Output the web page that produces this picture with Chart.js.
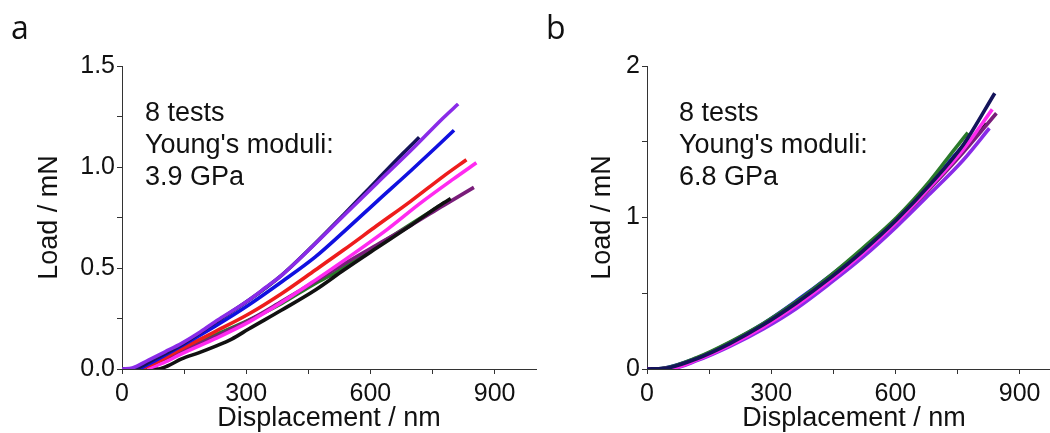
<!DOCTYPE html>
<html>
<head>
<meta charset="utf-8">
<script src="https://cdn.jsdelivr.net/npm/chart.js@4.4.1/dist/chart.umd.min.js"></script>
<style>
  html, body { margin: 0; padding: 0; background: #fff; overflow: hidden; }
  body { width: 1050px; height: 433px; position: relative; font-family: "Liberation Sans", Arial, sans-serif; }
  .panel { position: absolute; top: 0; width: 540px; height: 433px; }
  .letter { position: absolute; font-family: "Open Sans", "DejaVu Sans", sans-serif; font-size: 32px; color: #111; }
  .note { position: absolute; font-size: 27px; line-height: 32px; color: #111; white-space: nowrap; }
</style>
</head>
<body>
<div class="panel" style="left:0"><canvas id="chartA" width="540" height="433"></canvas></div>
<div class="panel" style="left:525px"><canvas id="chartB" width="540" height="433"></canvas></div>
<div class="letter" style="left:11px;top:5px">a</div>
<div class="letter" style="left:546px;top:5px">b</div>
<div class="note" style="left:145px;top:96px">8 tests<br>Young's moduli:<br>3.9 GPa</div>
<div class="note" style="left:679px;top:96px">8 tests<br>Young's moduli:<br>6.8 GPa</div>
<script>
// -----------------------------
// DATA  (displacement nm, load mN)
// -----------------------------
const xTickValues = [0, 150, 300, 450, 600, 750, 900];
const xTickLabels = [0, 300, 600, 900];
const yTickValuesA = [0, 0.25, 0.5, 0.75, 1, 1.25, 1.5];
const yTickLabelsA = [0, 0.5, 1, 1.5];
const yTickValuesB = [0, 0.5, 1, 1.5, 2];
const yTickLabelsB = [0, 1, 2];

// panel a
const aViolet = [[0,0],[25,0.005],[64,0.044],[104,0.085],[144,0.127],[185,0.178],[225,0.234],[266,0.287],[306,0.341],[346,0.402],[386,0.465],[451,0.589],[536,0.76],[616,0.92],[697,1.08],[777,1.245],[812,1.312]];
const aNavy   = [[35,0],[70,0.04],[144,0.12],[225,0.23],[306,0.34],[386,0.465],[451,0.59],[536,0.765],[616,0.935],[680,1.07],[718,1.147]];
const aBlue   = [[40,0],[70,0.03],[144,0.115],[225,0.212],[306,0.317],[386,0.432],[467,0.555],[536,0.68],[616,0.83],[697,0.98],[760,1.1],[802,1.182]];
const aRed    = [[45,0],[80,0.03],[144,0.1],[225,0.185],[306,0.272],[386,0.374],[467,0.49],[536,0.59],[616,0.71],[697,0.83],[777,0.955],[832,1.036]];
const aPink   = [[60,0],[100,0.03],[144,0.075],[225,0.15],[306,0.232],[386,0.33],[467,0.44],[552,0.56],[640,0.69],[720,0.82],[800,0.94],[856,1.021]];
const aGreen  = [[40,0],[80,0.035],[144,0.094],[225,0.168],[306,0.242],[386,0.325],[467,0.424],[510,0.47],[600,0.59],[700,0.72],[780,0.825]];
const aBlack  = [[0,0],[85,0],[110,0.015],[144,0.05],[185,0.08],[225,0.112],[265,0.148],[306,0.198],[386,0.292],[467,0.391],[536,0.49],[616,0.6],[697,0.71],[760,0.8],[794,0.844]];
const aPurple = [[0,0],[40,0.005],[80,0.03],[144,0.085],[225,0.16],[306,0.24],[386,0.335],[431,0.39],[536,0.52],[616,0.615],[697,0.71],[777,0.81],[850,0.899]];

// panel b
const bNavy   = [[0,0],[45,0.005],[120,0.068],[200,0.168],[281,0.292],[361,0.436],[442,0.6],[522,0.78],[603,0.985],[683,1.215],[764,1.48],[840,1.82]];
const bBlue   = [[0,0],[40,0.005],[120,0.072],[200,0.175],[281,0.3],[361,0.45],[442,0.615],[522,0.79],[603,0.99],[683,1.21],[740,1.4],[780,1.52]];
const bGreen  = [[0,0],[40,0.005],[120,0.075],[200,0.178],[281,0.3],[361,0.445],[442,0.615],[522,0.8],[603,1.0],[683,1.24],[740,1.44],[775,1.56]];
const bRed    = [[0,0],[50,0.005],[120,0.07],[200,0.17],[281,0.29],[361,0.43],[442,0.6],[522,0.78],[603,0.985],[650,1.11]];
const bPink   = [[0,0],[60,0.005],[120,0.06],[200,0.158],[281,0.278],[361,0.42],[442,0.585],[522,0.765],[603,0.97],[683,1.2],[764,1.45],[834,1.714]];
const bPurple = [[0,0],[50,0.005],[120,0.065],[200,0.163],[281,0.282],[361,0.424],[442,0.59],[522,0.768],[603,0.97],[683,1.19],[764,1.43],[844,1.688]];
const bViolet = [[0,0],[60,0.003],[120,0.055],[200,0.15],[281,0.265],[361,0.4],[442,0.565],[522,0.74],[603,0.94],[683,1.155],[764,1.38],[827,1.589]];
const bBlack  = [[0,0],[55,0.005],[120,0.065],[200,0.165],[281,0.285],[361,0.428],[442,0.595],[522,0.772],[603,0.975],[683,1.195],[764,1.44],[820,1.62]];

const colors = {
    violet: "#8a2be8", navy: "#14145a", blue: "#1010e0", red: "#ee1c1c",
    pink: "#ff2af0", green: "#2a7a2a", black: "#111111", purple: "#7a1d7a"
};

// -----------------------------
// HELPERS
// -----------------------------
const FONT = "'Liberation Sans', Arial, sans-serif";

function series(points, color) {
    return {
        data: points.map(p => ({ x: p[0], y: p[1] })),
        borderColor: color,
        borderWidth: 3.6,
        pointRadius: 0,
        showLine: true,
        cubicInterpolationMode: "monotone",
        fill: false
    };
}

function makeChart(id, datasets, yMax, yValues, yLabels, yDigits, padLeft, yWidth) {
    return new Chart(document.getElementById(id), {
        type: "scatter",
        data: { datasets },
        options: {
            responsive: false,
            animation: false,
            layout: { padding: { top: 66, left: padLeft, right: 4, bottom: 0 } },
            plugins: { legend: { display: false }, tooltip: { enabled: false } },
            scales: {
                x: {
                    type: "linear", min: 0, max: 1000,
                    afterBuildTicks: s => { s.ticks = xTickValues.map(v => ({ value: v })); },
                    afterFit: s => { s.height = 64; },
                    ticks: {
                        autoSkip: false, maxRotation: 0, padding: 5,
                        color: "#111", font: { family: FONT, size: 25 },
                        callback: v => xTickLabels.includes(v) ? String(v) : ""
                    },
                    grid: { drawOnChartArea: false, tickLength: 5, color: "#333" },
                    border: { color: "#333", width: 1 },
                    title: { display: true, text: "Displacement / nm", color: "#111", font: { family: FONT, size: 27 }, padding: { top: 0, bottom: -2 } }
                },
                y: {
                    type: "linear", min: 0, max: yMax,
                    afterBuildTicks: s => { s.ticks = yValues.map(v => ({ value: v })); },
                    afterFit: s => { s.width = yWidth; },
                    ticks: {
                        autoSkip: false, padding: 2,
                        color: "#111", font: { family: FONT, size: 25 },
                        callback: v => yLabels.includes(v) ? v.toFixed(yDigits) : ""
                    },
                    grid: { drawOnChartArea: false, tickLength: 5, color: "#333" },
                    border: { color: "#333", width: 1 },
                    title: { display: true, text: "Load / mN", color: "#111", font: { family: FONT, size: 27 }, padding: 0 }
                }
            }
        }
    });
}

// -----------------------------
// PANEL A
// -----------------------------
makeChart("chartA", [
    series(aViolet, colors.violet),
    series(aNavy, colors.navy),
    series(aBlue, colors.blue),
    series(aRed, colors.red),
    series(aPink, colors.pink),
    series(aBlack, colors.black),
    series(aPurple, colors.purple),
    series(aGreen, colors.green)
], 1.5, yTickValuesA, yTickLabelsA, 1, 33, 89);

// -----------------------------
// PANEL B
// -----------------------------
makeChart("chartB", [
    series(bNavy, colors.navy),
    series(bPink, colors.pink),
    series(bPurple, colors.purple),
    series(bGreen, colors.green),
    series(bBlue, colors.blue),
    series(bViolet, colors.violet),
    series(bRed, colors.red),
    series(bBlack, colors.black)
], 2, yTickValuesB, yTickLabelsB, 0, 61, 61);
</script>
</body>
</html>
